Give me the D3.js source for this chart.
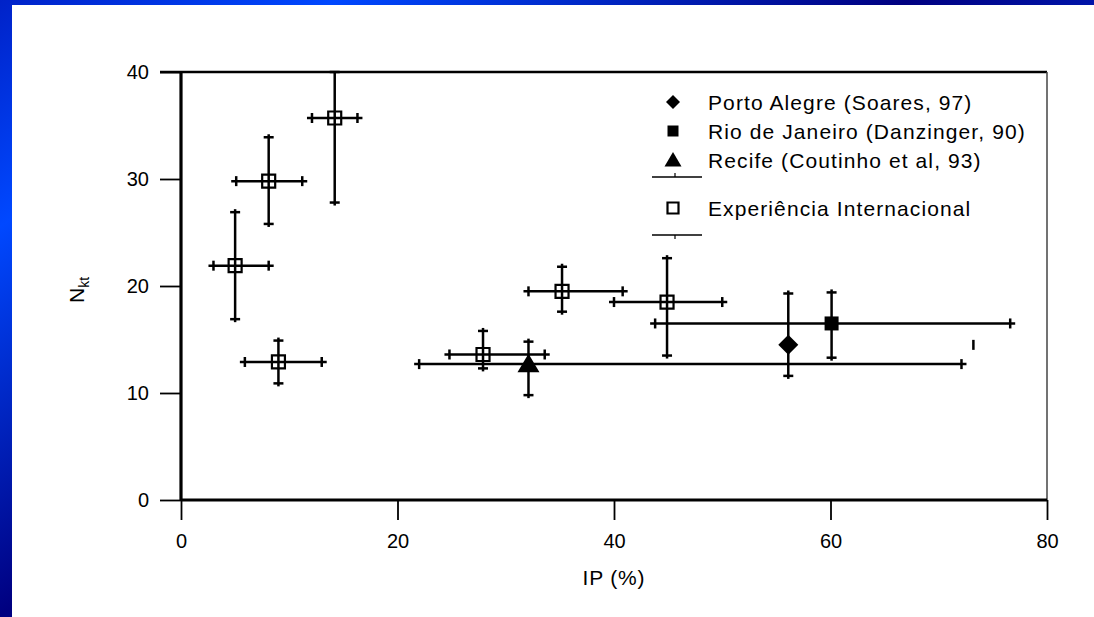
<!DOCTYPE html>
<html>
<head>
<meta charset="utf-8">
<script src="https://cdn.jsdelivr.net/npm/d3@7"></script>
<style>
  html, body { margin: 0; padding: 0; background: #fff; }
  svg { display: block; }
  text { font-family: "Liberation Sans", Arial, sans-serif; fill: #000; }
</style>
</head>
<body>
<svg id="chart" width="1094" height="617"></svg>
<script>
// ---------- data ----------
const xTickValues = [0, 20, 40, 60, 80];
const yTickValues = [0, 10, 20, 30, 40];
const xLabel = "IP (%)";

// Experiência Internacional (open squares)
const intlIP     = [14.2,  8.1,  5.0,  9.0, 27.9, 35.2, 44.9];
const intlNkt    = [35.7, 29.8, 21.9, 12.9, 13.6, 19.5, 18.5];
const intlIPLo   = [12.1,  5.1,  3.0,  5.9, 24.8, 32.1, 40.0];
const intlIPHi   = [16.3, 11.2,  8.1, 13.0, 33.6, 40.8, 50.0];
const intlNktLo  = [27.8, 25.8, 16.9, 10.9, 12.3, 17.6, 13.5];
const intlNktHi  = [40.0, 33.9, 26.9, 14.9, 15.8, 21.8, 22.6];

// Brazilian sites
const siteNames  = ["Porto Alegre (Soares, 97)", "Rio de Janeiro (Danzinger, 90)", "Recife (Coutinho et al, 93)"];
const siteShapes = ["diamond", "square", "triangle"];
const siteIP     = [56.1, 60.1, 32.1];
const siteNkt    = [14.5, 16.5, 12.7];
const siteIPLo   = [null, 43.8, 22.0];
const siteIPHi   = [null, 76.6, 72.1];
const siteNktLo  = [11.6, 13.3,  9.8];
const siteNktHi  = [19.3, 19.4, 14.8];
const strayIP    = [73.2];
const strayNkt   = [14.5];

const intlName = "Experiência Internacional";

// ---------- layout ----------
const W = 1094, H = 617;
const svg = d3.select("#chart");

// blue slide background with diagonal gradient
const defs = svg.append("defs");
const grad = defs.append("linearGradient").attr("id", "bg")
  .attr("gradientUnits", "userSpaceOnUse")
  .attr("x1", 0).attr("y1", 0).attr("x2", 344).attr("y2", 508);
[[0, "#0022c8"], [0.306, "#0048ff"], [0.83, "#000080"], [1, "#0014a8"]]
  .forEach(([o, c]) => grad.append("stop").attr("offset", o).attr("stop-color", c));
svg.append("rect").attr("width", W).attr("height", H).attr("fill", "url(#bg)");
svg.append("rect").attr("x", 12).attr("y", 5).attr("width", W - 12).attr("height", H - 5).attr("fill", "#fff");

const x = d3.scaleLinear().domain([0, 80]).range([181, 1047]);
const y = d3.scaleLinear().domain([0, 40]).range([500, 72]);

// axes
const gy = svg.append("g").attr("transform", `translate(${x(0)},0)`)
  .call(d3.axisLeft(y).tickValues(yTickValues).tickSize(21).tickPadding(11).tickFormat(d3.format("d")));
const gx = svg.append("g").attr("transform", `translate(0,${y(0)})`)
  .call(d3.axisBottom(x).tickValues(xTickValues).tickSize(20).tickPadding(14).tickFormat(d3.format("d")));
[gx, gy].forEach(g => {
  g.select(".domain").remove();
  g.selectAll(".tick line").attr("stroke", "#000").attr("stroke-width", 1.8);
  g.selectAll(".tick text").attr("font-size", 20).attr("fill", "#000")
    .style("font-family", "'Liberation Sans', Arial, sans-serif");
});

// frame
const frame = svg.append("g").attr("stroke", "#000").attr("fill", "none");
frame.append("line").attr("x1", x(0) - 21).attr("x2", x(80)).attr("y1", y(40)).attr("y2", y(40)).attr("stroke-width", 2.4);
frame.append("line").attr("x1", x(80)).attr("x2", x(80)).attr("y1", y(40)).attr("y2", y(0)).attr("stroke-width", 1.5).attr("stroke", "#444");
frame.append("line").attr("x1", x(0)).attr("x2", x(0)).attr("y1", y(40) - 1).attr("y2", y(0) + 1).attr("stroke-width", 3.2);
frame.append("line").attr("x1", x(0)).attr("x2", x(80)).attr("y1", y(0)).attr("y2", y(0)).attr("stroke-width", 3.2);

// axis titles
svg.append("text").attr("x", x(40)).attr("y", 585).attr("text-anchor", "middle")
  .attr("font-size", 21).attr("letter-spacing", 0.8).text(xLabel);
const yt = svg.append("text").attr("transform", `translate(84,${y(20) + 4}) rotate(-90)`)
  .attr("text-anchor", "middle").attr("font-size", 21);
yt.append("tspan").text("N");
yt.append("tspan").attr("font-size", 14).attr("dy", 5).text("kt");

// ---------- error bars ----------
const plot = svg.append("g");
const CAP = 5, EXT = 5;
function errBar(px, py, xl, xh, yl, yh) {
  const g = plot.append("g").attr("stroke", "#000").attr("stroke-width", 2.5).attr("fill", "none");
  if (xl != null) {
    g.append("line").attr("x1", x(xl) - EXT).attr("x2", x(xh) + EXT).attr("y1", y(py)).attr("y2", y(py));
    [xl, xh].forEach(v => g.append("line").attr("x1", x(v)).attr("x2", x(v))
      .attr("y1", y(py) - CAP).attr("y2", y(py) + CAP));
  }
  if (yl != null) {
    const top = Math.max(y(40), y(yh) - 3);
    g.append("line").attr("x1", x(px)).attr("x2", x(px)).attr("y1", top).attr("y2", y(yl) + 3);
    [yl, yh].forEach(v => g.append("line").attr("x1", x(px) - CAP).attr("x2", x(px) + CAP)
      .attr("y1", y(v)).attr("y2", y(v)));
  }
}
intlIP.forEach((v, i) => errBar(v, intlNkt[i], intlIPLo[i], intlIPHi[i], intlNktLo[i], intlNktHi[i]));
siteIP.forEach((v, i) => errBar(v, siteNkt[i], siteIPLo[i], siteIPHi[i], siteNktLo[i], siteNktHi[i]));
strayIP.forEach((v, i) => plot.append("line").attr("stroke", "#000").attr("stroke-width", 2.5)
  .attr("x1", x(v)).attr("x2", x(v)).attr("y1", y(strayNkt[i]) - 5).attr("y2", y(strayNkt[i]) + 5));

// ---------- markers ----------
function shapePath(shape, s) {
  if (shape === "diamond") return `M0,${-s}L${s},0L0,${s}L${-s},0Z`;
  if (shape === "square") return `M${-s},${-s}H${s}V${s}H${-s}Z`;
  if (shape === "triangle") return `M0,${-s * 0.95}L${s},${s * 0.75}L${-s},${s * 0.75}Z`;
}
const siteSizes = [10, 7, 11];
siteIP.forEach((v, i) => plot.append("path")
  .attr("transform", `translate(${x(v)},${y(siteNkt[i])})`)
  .attr("d", shapePath(siteShapes[i], siteSizes[i])).attr("fill", "#000"));
intlIP.forEach((v, i) => plot.append("path")
  .attr("transform", `translate(${x(v)},${y(intlNkt[i])})`)
  .attr("d", shapePath("square", 6.5)).attr("fill", "none").attr("stroke", "#000").attr("stroke-width", 2.2));

// ---------- legend ----------
const leg = svg.append("g");
const legX = 673, legTextX = 708;
const legRowsY = [102, 131, 160];
const legSizes = [7, 5.5, 8.5];
siteNames.forEach((name, i) => {
  leg.append("path").attr("transform", `translate(${legX},${legRowsY[i]})`)
    .attr("d", shapePath(siteShapes[i], legSizes[i])).attr("fill", "#000");
  leg.append("text").attr("x", legTextX).attr("y", legRowsY[i]).attr("dy", "0.36em")
    .attr("font-size", 21).attr("letter-spacing", 1.1).text(name);
});
const lineRows = [[177, -1], [235, 1]];
lineRows.forEach(([ly, dir]) => {
  leg.append("line").attr("x1", 652).attr("x2", 702).attr("y1", ly).attr("y2", ly).attr("stroke", "#000").attr("stroke-width", 1.6);
  leg.append("line").attr("x1", 675).attr("x2", 675).attr("y1", ly).attr("y2", ly + dir * 4).attr("stroke", "#000").attr("stroke-width", 1.2);
});
leg.append("path").attr("transform", `translate(${legX},208)`).attr("d", shapePath("square", 5.5))
  .attr("fill", "none").attr("stroke", "#000").attr("stroke-width", 2.2);
leg.append("text").attr("x", legTextX).attr("y", 208).attr("dy", "0.36em")
  .attr("font-size", 21).attr("letter-spacing", 1.1).text(intlName);
</script>
</body>
</html>
